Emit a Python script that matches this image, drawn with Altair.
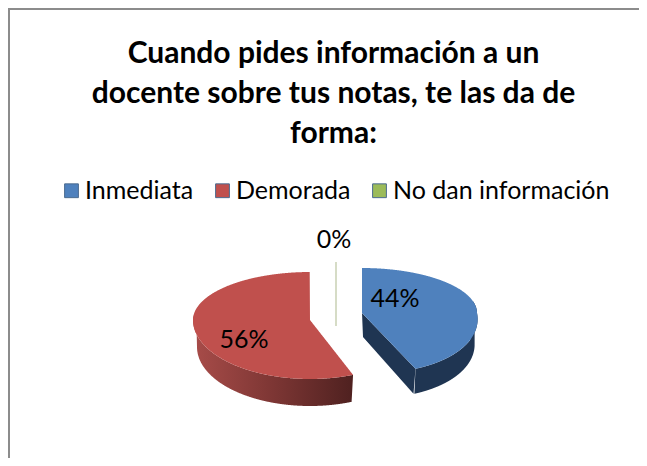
import numpy as np
import pandas as pd
import altair as alt

categories = ["Inmediata", "Demorada", "No dan información"]
shares = [44, 56, 0]
labels = ["44%", "56%", "0%"]
colors = ["#4f81bd", "#c0504d", "#9bbb59"]
title_lines = ["Cuando pides información a un", "docente sobre tus notas, te las da de", "forma:"]

W, H = 631, 450
OX, OY = 8, 8   # page margin


def arc(cx, cy, a, bb, bf, t0, t1, lean=0.0, n=90):
    t = np.radians(np.linspace(t0, t1, n))
    c = np.cos(t)
    b = np.where(c > 0, bb, bf)
    dy = -b * c
    x = cx + a * np.sin(t) + lean * np.clip(dy, 0, None)
    return np.column_stack([x, cy + dy])


def band(poly):
    """Turn a closed outline into an x / y / y2 table for an area mark."""
    p = np.vstack([poly, poly[:1]])
    xs = np.unique(np.round(np.concatenate([p[:, 0], np.linspace(p[:, 0].min(), p[:, 0].max(), 300)]), 2))
    rows = []
    for x in xs:
        ys = []
        for (x0, y0), (x1, y1) in zip(p[:-1], p[1:]):
            if min(x0, x1) <= x <= max(x0, x1):
                if x0 == x1:
                    ys += [y0, y1]
                else:
                    ys.append(y0 + (y1 - y0) * (x - x0) / (x1 - x0))
        if len(ys) >= 2:
            rows.append({"x": x - OX, "y": min(ys) - OY, "y2": max(ys) - OY})
    return pd.DataFrame(rows)


split = shares[0] / sum(shares) * 360

# blue slice
bc = (362, 313)
b_top = arc(*bc, 115, 45, 60, 0, split, lean=0.2)
b_apex = np.array([bc])
b_wall = np.vstack([arc(*bc, 115, 45, 60, 75, split, lean=0.2),
                    (arc(*bc, 112, 45, 60, 75, split, lean=0.2) + [0, 25])[::-1]])
b_cut = np.vstack([b_apex, b_top[-1:], b_top[-1:] + [-2, 25], b_apex + [1, 24]])
# red slice
rc = (310, 320)
r_top = arc(*rc, 117, 48, 59, split, 360)
r_wall = np.vstack([arc(*rc, 117, 48, 59, split, 276),
                    (arc(*rc, 113, 48, 59, split, 276) + [0, 27])[::-1]])

x_s = alt.Scale(domain=[0, W], range=[0, W])
y_s = alt.Scale(domain=[0, H], range=[0, H])
X = alt.X("x:Q", scale=x_s, axis=None)
Y = alt.Y("y:Q", scale=y_s, axis=None)


def area(poly, **mark):
    return alt.Chart(band(poly)).mark_area(**mark).encode(X, Y, y2="y2:Q")


def grad(stops):
    return alt.Gradient(gradient="linear", x1=0, x2=1, y1=0, y2=0,
                        stops=[alt.GradientStop(color=c, offset=o) for o, c in stops])


def top(poly, cat):
    d = band(poly)
    d["c"] = cat
    return alt.Chart(d).mark_area().encode(
        X, Y, y2="y2:Q",
        color=alt.Color("c:N", scale=alt.Scale(domain=categories, range=colors), legend=legend),
    )


legend = alt.Legend(
    title=None, orient="none", legendX=51, legendY=170, direction="horizontal",
    symbolType="square", symbolSize=190, symbolStrokeWidth=1, symbolStrokeColor="#4a6a8f",
    labelFont="Lato", labelFontSize=25, labelColor="#000", columnPadding=16, labelOffset=1,
    symbolOpacity=1, labelLimit=400,
)

frame = pd.DataFrame([{"x": 0, "x2": W, "y": 1, "y2": 1}, {"x": 1, "x2": 1, "y": 0, "y2": H}])
frame_l = alt.Chart(frame).mark_rule(color="#8c8c8c", strokeWidth=2).encode(X, alt.X2("x2:Q"), Y, alt.Y2("y2:Q"))

zero = pd.DataFrame([{"x": 336 - OX, "y": 262 - OY, "y2": 326 - OY}])
zero_l = alt.Chart(zero).mark_rule(color="#d6dcc6", strokeWidth=2).encode(X, Y, alt.Y2("y2:Q"))

pos = {"44%": (395, 299), "56%": (244, 340), "0%": (334, 240)}
lab = pd.DataFrame([{"t": t, "x": pos[t][0] - OX, "y": pos[t][1] - OY} for t in labels])
lab_l = alt.Chart(lab).mark_text(font="Lato", fontSize=25, color="#000").encode(X, Y, text="t:N")

chart = alt.layer(
    frame_l,
    area(b_wall, fill="#1f3552"),
    area(b_cut, fill="#1f3552"),
    area(r_wall, fill=grad([(0, "#a84c49"), (0.5, "#7d3634"), (1, "#4f2120")])),
    top(b_top.tolist() + [list(bc)], categories[0]),
    top(r_top.tolist() + [list(rc)], categories[1]),
    zero_l,
    lab_l,
).properties(
    width=W, height=H,
    padding=0,
    autosize=alt.AutoSizeParams(type="none"),
    title=alt.TitleParams(title_lines, font="Lato", fontSize=30, fontWeight="bold", color="#000",
                          anchor="middle", offset=-142, lineHeight=40, dx=10, frame="group"),
).configure_view(stroke=None).configure_legend(padding=0)

chart.save("out.html", embed_options={"renderer": "svg", "actions": False})
